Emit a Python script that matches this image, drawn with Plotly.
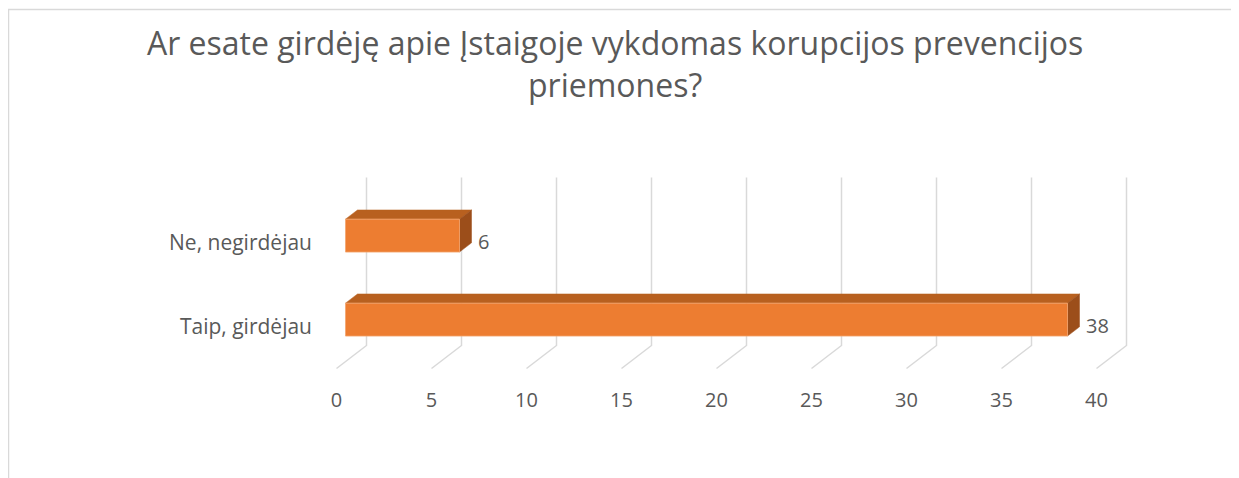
import plotly.graph_objects as go

# ---- data ----
categories = ["Taip, girdėjau", "Ne, negirdėjau"]
values = [38, 6]
tick_values = [0, 5, 10, 15, 20, 25, 30, 35, 40]
title_text = "Ar esate girdėję apie Įstaigoje vykdomas korupcijos prevencijos<br>priemones?"

# ---- styling / pseudo-3D projection params ----
W, H = 1239, 478
U = 19.0          # px per value unit
CAT_PX = 84.0     # px per category unit
DX = 30.0 / U     # depth shift in value units (front -> back)
DY = 23.0 / CAT_PX  # depth shift in category units
HALF = 0.196      # half bar height (category units)
D0, D1 = 0.3, 0.7 # bar depth span
ML, MR, MT, MB = 319, 108, 162, 102
x_min = -0.5
x_max = x_min + (W - ML - MR) / U
y_min = -0.6845
y_max = y_min + (H - MT - MB) / CAT_PX

FRONT = "#ED7D31"
TOP = "#B8601F"
SIDE = "#9C4E1A"
GRID = "#D9D9D9"
TXT = "#595959"
FONT = "Open Sans"

fig = go.Figure()

y_lo, y_hi = -0.5, len(categories) - 0.5

# gridlines (floor diagonal + back wall vertical)
for v in tick_values:
    fig.add_trace(go.Scatter(
        x=[v, v + DX, v + DX],
        y=[y_lo, y_lo + DY, y_hi + DY],
        mode="lines", line=dict(color=GRID, width=1.5),
        hoverinfo="skip", showlegend=False))

# bars
for i, (cat, val) in enumerate(zip(categories, values)):
    # top face
    fig.add_trace(go.Scatter(
        x=[0 + D0 * DX, val + D0 * DX, val + D1 * DX, 0 + D1 * DX, 0 + D0 * DX],
        y=[i + HALF + D0 * DY, i + HALF + D0 * DY, i + HALF + D1 * DY, i + HALF + D1 * DY, i + HALF + D0 * DY],
        fill="toself", fillcolor=TOP, mode="lines", line=dict(color=TOP, width=0.5),
        hoverinfo="skip", showlegend=False))
    # side face
    fig.add_trace(go.Scatter(
        x=[val + D0 * DX, val + D1 * DX, val + D1 * DX, val + D0 * DX, val + D0 * DX],
        y=[i - HALF + D0 * DY, i - HALF + D1 * DY, i + HALF + D1 * DY, i + HALF + D0 * DY, i - HALF + D0 * DY],
        fill="toself", fillcolor=SIDE, mode="lines", line=dict(color=SIDE, width=0.5),
        hoverinfo="skip", showlegend=False))
    # front face
    fig.add_trace(go.Scatter(
        x=[0 + D0 * DX, val + D0 * DX, val + D0 * DX, 0 + D0 * DX, 0 + D0 * DX],
        y=[i - HALF + D0 * DY, i - HALF + D0 * DY, i + HALF + D0 * DY, i + HALF + D0 * DY, i - HALF + D0 * DY],
        fill="toself", fillcolor=FRONT, mode="lines", line=dict(color="#F4A46E", width=0.8),
        hoverinfo="text", text=f"{cat}: {val}", showlegend=False))

# data labels
for i, val in enumerate(values):
    fig.add_annotation(x=val + D1 * DX, y=i, text=str(val), showarrow=False,
                       xanchor="left", yanchor="middle", xshift=4, yshift=1,
                       font=dict(family=FONT, size=20, color=TXT))

# chart-area border
pw, ph = W - ML - MR, H - MT - MB
fig.add_shape(type="rect", xref="paper", yref="paper",
              x0=(0.5 - ML) / pw, x1=(W + 10 - ML) / pw,
              y0=(H - MB - (H + 10)) / ph, y1=(H - MB - 1.5) / ph,
              line=dict(color="#D9D9D9", width=1.5), fillcolor="rgba(0,0,0,0)", layer="below")

fig.update_layout(
    width=W, height=H,
    margin=dict(l=ML, r=MR, t=MT, b=MB),
    paper_bgcolor="white", plot_bgcolor="white",
    title=dict(text=title_text, x=0.49, xanchor="center", y=0.901, yanchor="top",
               font=dict(family=FONT, size=32, color=TXT)),
    xaxis=dict(range=[x_min, x_max], tickvals=tick_values, showgrid=False, zeroline=False,
               showline=False, ticks="", ticklabelstandoff=2,
               tickfont=dict(family=FONT, size=20, color=TXT)),
    yaxis=dict(range=[y_min, y_max], tickvals=list(range(len(categories))), ticktext=categories,
               showgrid=False, zeroline=False, showline=False, ticks="",
               ticklabelstandoff=14,
               tickfont=dict(family=FONT, size=21, color=TXT)),
    font=dict(family=FONT, color=TXT),
)

fig.write_html("out.html")
